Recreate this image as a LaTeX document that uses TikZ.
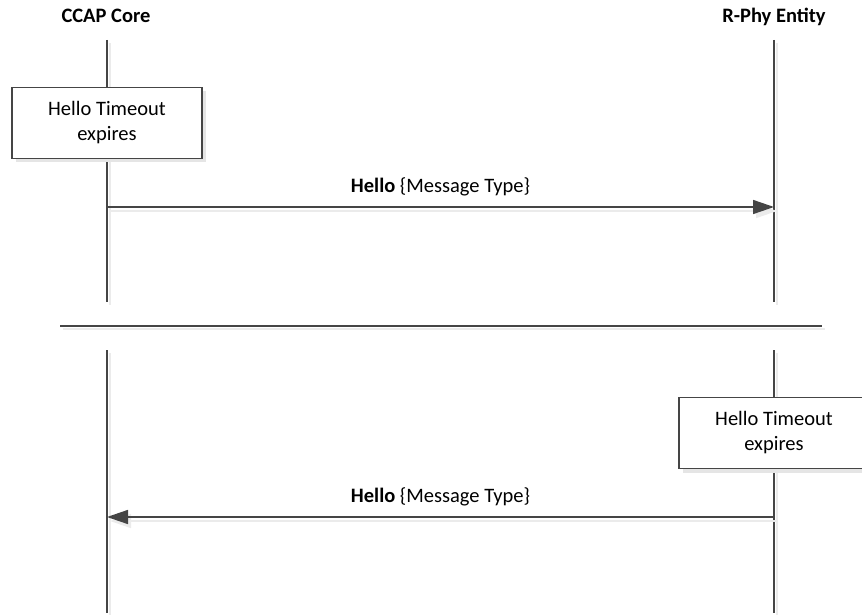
\documentclass[tikz,border=0pt]{standalone}
\usepackage{fontspec}
\setmainfont{Carlito}
\usepackage{xcolor}
\usetikzlibrary{arrows.meta,positioning,shadows}
\definecolor{linegray}{HTML}{454545}

\begin{document}
\begin{tikzpicture}[x=1pt, y=-1pt,
        box/.style={rectangle, draw=linegray, line width=1.2pt, fill=white, minimum width=190pt, minimum height=71pt, align=center, font=\fontsize{20.5}{25}\selectfont, drop shadow={shadow xshift=4pt, shadow yshift=-4pt, fill=black!10, opacity=1}},
        lifeline/.style={draw=linegray, line width=1.5pt, preaction={draw=black!8, line width=1.5pt, transform canvas={shift={(3pt,-3pt)}}}},
        arrow/.style={-{Triangle[length=21pt, width=14pt]}, draw=linegray, line width=1.5pt, preaction={draw=black!8, line width=1.5pt, transform canvas={shift={(3pt,-4pt)}}}},
        head/.style={font=\bfseries\fontsize{20.5}{24}\selectfont, anchor=base},
        label/.style={font=\fontsize{20.5}{24}\selectfont, anchor=base, yshift=15pt}
    ]
    \useasboundingbox (0,0) rectangle (862,615);

    % Participants
    \node[head] (ccap_core) at (106,23) {CCAP Core};
    \node[head] (rphy_entity) at (774,23) {R-Phy Entity};

    % Lifeline ends (upper part)
    \coordinate (ccap_top) at (107,40);
    \coordinate (ccap_cut) at (107,302);
    \coordinate (rphy_top) at (774,40);
    \coordinate (rphy_cut) at (774,302);

    % Lifeline ends (lower part)
    \coordinate (ccap_resume) at (107,350);
    \coordinate (ccap_end) at (107,613);
    \coordinate (rphy_resume) at (774,350);
    \coordinate (rphy_end) at (774,613);

    % Separator between the two cases
    \coordinate (sep_left) at (60,326);
    \coordinate (sep_right) at (822,326);

    % Lifelines
    \draw[lifeline] (ccap_top) -- (ccap_cut);
    \draw[lifeline] (rphy_top) -- (rphy_cut);
    \draw[lifeline] (ccap_resume) -- (ccap_end);
    \draw[lifeline] (rphy_resume) -- (rphy_end);
    \draw[lifeline] (sep_left) -- (sep_right);

    % Case 1: CCAP Core timeout
    \node[box] (ccap_timeout) at (107,123) {Hello Timeout\\expires};
    \coordinate (ccap_send) at (107,207);
    \coordinate (rphy_recv) at (774,207);
    \draw[arrow] (ccap_send) -- node[label] {\textbf{Hello} \{Message Type\}} (rphy_recv);

    % Case 2: R-Phy Entity timeout
    \node[box] (rphy_timeout) at (774,433) {Hello Timeout\\expires};
    \coordinate (rphy_send) at (774,517);
    \coordinate (ccap_recv) at (107,517);
    \draw[arrow] (rphy_send) -- node[label] {\textbf{Hello} \{Message Type\}} (ccap_recv);

\end{tikzpicture}
\end{document}
